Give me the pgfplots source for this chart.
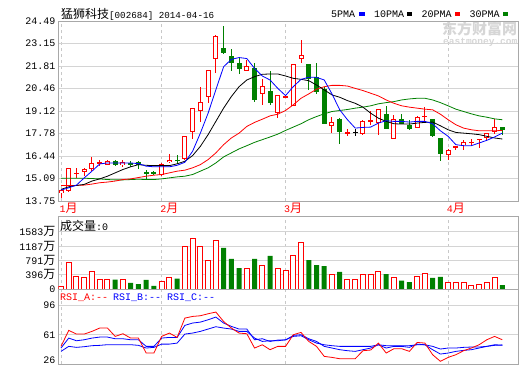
\documentclass[border=0pt]{standalone}
\usepackage{pgfplots}
\pgfplotsset{compat=1.18}
\usepackage{pgfplotstable}
\usepackage{fontspec}
\setmainfont{Liberation Mono}
\newfontfamily\cjk{Noto Sans CJK SC}
\newcommand\cj[1]{{\cjk\fontsize{12}{12}\selectfont #1}}
\definecolor{cred}{RGB}{255,0,0}
\definecolor{cgreen}{RGB}{0,128,0}
\definecolor{cblue}{RGB}{0,0,255}
\definecolor{gframe}{RGB}{168,168,168}
\definecolor{ggrid}{RGB}{212,212,212}
\definecolor{gdash}{RGB}{200,200,200}
\definecolor{wm}{RGB}{214,214,214}

\pgfplotstableread{
x o h l c
0 14.22 14.38 13.95 14.38
1 14.32 15.72 14.28 15.69
2 15.37 15.69 15.13 15.43
3 15.49 15.73 15.23 15.67
4 15.67 16.36 15.53 16.02
5 15.98 16.18 15.83 16.06
6 15.92 16.22 15.89 16.16
8 15.90 16.18 15.79 16.06
13 15.33 16.02 15.27 15.98
14 16.06 16.56 16.02 16.22
16 16.26 17.65 16.22 17.63
17 17.86 19.32 17.45 19.29
18 19.11 20.53 18.48 19.66
19 19.96 21.56 19.62 21.54
20 22.20 23.65 21.37 23.62
24 21.52 22.16 21.50 21.78
26 20.14 21.01 19.45 20.59
28 18.99 20.08 18.73 20.06
29 19.95 20.02 19.93 20.00
30 19.43 21.92 19.40 21.90
31 22.20 23.38 22.00 22.49
35 18.20 18.75 17.80 18.48
37 17.80 18.04 17.61 17.86
39 17.74 18.60 17.71 18.54
40 18.48 19.15 18.28 18.60
41 18.40 19.23 17.71 19.21
43 17.45 18.89 17.43 18.63
46 18.10 18.81 18.08 18.79
47 18.75 19.33 18.54 18.85
50 16.50 16.83 16.18 16.81
51 16.98 17.01 16.77 17.01
52 17.09 17.37 16.77 17.25
53 17.25 17.45 17.01 17.29
54 17.41 17.47 16.91 17.45
55 17.53 17.82 17.41 17.80
56 17.88 18.63 17.76 18.16
}\redC

\pgfplotstableread{
x o h l c
7 16.14 16.22 15.83 15.92
9 16.02 16.14 15.79 15.94
10 16.06 16.12 15.63 15.92
11 15.51 15.59 15.03 15.35
12 15.47 15.53 15.33 15.37
15 16.22 16.52 15.98 16.16
21 22.87 24.17 22.55 22.59
22 22.39 22.79 21.52 22.00
23 22.00 22.29 21.31 21.62
25 21.66 21.96 19.68 19.78
27 20.32 21.52 19.45 19.57
32 21.92 21.95 20.38 21.01
33 21.13 21.96 20.14 20.26
34 20.44 20.57 18.32 18.34
36 18.65 18.68 17.15 17.86
42 18.93 19.39 18.02 18.04
44 18.63 18.93 18.33 18.36
45 18.30 18.60 17.96 18.04
48 18.65 18.67 17.57 17.65
49 17.51 17.53 16.12 16.54
57 18.16 18.16 17.71 18.00
}\greenC

\pgfplotstableread{
x o h l c
38 17.86 18.04 17.61 17.86
}\blackC

\pgfplotstableread{
x m5 m10 m20 m30
0 14.40 14.44 14.68 15.11
1 14.54 14.60 14.68 15.11
2 14.70 14.68 14.68 15.11
3 15.13 14.74 14.70 15.11
4 15.53 14.94 14.76 15.09
5 15.96 15.07 14.84 15.07
6 16.02 15.23 14.88 15.03
7 16.02 15.43 14.94 15.01
8 16.02 15.63 15.03 15.01
9 16.02 15.79 15.07 15.03
10 15.98 15.92 15.15 15.05
11 15.83 15.88 15.23 15.03
12 15.79 15.86 15.29 15.03
13 15.79 15.86 15.33 15.07
14 15.79 15.86 15.43 15.13
15 15.88 15.97 15.53 15.19
16 16.06 16.12 15.59 15.23
17 16.72 16.46 15.73 15.33
18 17.80 17.01 15.92 15.53
19 18.99 17.71 16.22 15.73
20 20.38 18.50 16.62 16.02
21 21.76 19.29 17.11 16.38
22 22.20 19.98 17.51 16.62
23 22.31 20.57 17.80 16.86
24 22.25 20.97 18.20 17.05
25 21.66 21.17 18.44 17.25
26 21.21 21.31 18.63 17.41
27 20.97 21.33 18.83 17.57
28 20.47 21.33 18.93 17.74
29 20.04 21.21 19.15 17.96
30 20.57 21.07 19.49 18.16
31 21.01 21.01 19.88 18.36
32 21.13 20.93 20.14 18.60
33 21.13 20.67 20.42 18.79
34 20.97 20.38 20.57 18.95
35 20.14 20.08 20.65 19.09
36 19.19 19.94 20.65 19.15
37 18.60 19.74 20.61 19.21
38 18.10 19.58 20.47 19.29
39 18.14 19.35 20.34 19.35
40 18.16 18.99 20.18 19.43
41 18.40 18.69 20.02 19.55
42 18.54 18.50 19.78 19.62
43 18.50 18.36 19.58 19.68
44 18.50 18.34 19.43 19.78
45 18.46 18.34 19.35 19.84
46 18.50 18.40 19.29 19.88
47 18.50 18.44 19.23 19.88
48 18.36 18.46 19.19 19.78
49 17.94 18.24 18.93 19.62
50 17.61 18.00 18.60 19.43
51 17.11 17.84 18.30 19.23
52 17.05 17.80 18.10 19.09
53 17.05 17.76 18.00 18.95
54 17.21 17.71 17.94 18.83
55 17.37 17.61 17.94 18.75
56 17.57 17.51 17.94 18.65
57 17.80 17.45 17.96 18.60
}\maT

\pgfplotstableread{
x v
0 74
1 746
2 359
3 322
4 497
5 276
6 276
8 249
13 221
14 322
16 1179
17 1400
18 1179
19 792
20 1345
24 580
26 663
28 571
29 525
30 939
31 1289
35 387
37 276
38 249
39 387
40 387
41 470
43 304
46 359
47 442
50 166
51 166
52 166
53 110
54 138
55 193
56 304
}\volR

\pgfplotstableread{
x v
7 258
9 166
10 138
11 249
12 83
15 285
21 1133
22 829
23 580
25 829
27 912
32 801
33 663
34 635
36 470
42 414
44 230
45 193
48 304
49 332
57 110
}\volG

\pgfplotstableread{
x a b c
0 47.1 45.1 41.1
1 66.2 57.0 47.1
2 61.8 53.8 45.9
3 61.8 55.0 46.7
4 65.0 57.0 47.9
5 69.0 58.2 48.3
6 69.0 58.2 49.1
7 59.0 56.2 49.1
8 62.2 56.2 49.1
9 57.0 55.0 49.1
10 57.0 55.0 48.3
11 39.1 47.1 45.1
12 39.1 47.1 45.9
13 59.0 57.0 49.8
14 63.0 57.8 49.8
15 57.8 57.8 51.0
16 80.9 72.2 61.8
17 82.9 75.0 63.0
18 83.7 76.1 65.0
19 86.1 78.9 67.8
20 88.1 82.1 70.6
21 76.9 75.0 69.0
22 69.0 71.0 67.8
23 63.0 67.8 65.0
24 62.2 67.8 65.0
25 45.1 55.0 57.0
26 49.0 56.2 53.0
27 43.1 53.0 53.8
28 47.1 54.6 53.8
29 47.1 54.6 55.0
30 61.0 60.2 59.0
31 63.8 61.0 59.8
32 53.0 56.2 55.0
33 47.1 53.0 51.0
34 35.1 47.1 49.0
35 33.9 45.1 47.9
36 32.3 43.1 47.1
37 32.3 41.9 47.1
38 32.3 41.1 47.1
39 41.9 43.1 47.1
40 42.7 45.1 47.1
41 51.0 49.0 49.0
42 39.1 45.1 47.9
43 44.3 47.1 47.9
44 44.3 47.1 47.9
45 41.1 45.9 47.9
46 51.8 49.8 49.0
47 51.0 49.0 49.0
48 37.1 43.1 47.1
49 29.2 37.9 43.9
50 33.9 39.1 45.1
51 37.1 41.1 45.1
52 41.9 42.3 45.9
53 45.1 43.1 46.3
54 49.0 45.1 46.3
55 55.0 47.1 47.1
56 59.0 49.0 48.3
57 55.0 48.6 48.6
}\rsiT

\pgfplotsset{
  panel/.style={
    scale only axis, width=460pt,
    xmin=-0.323, xmax=59.09,
    axis line style={draw=gframe, line width=0.8pt},
    major tick length=0pt,
    xtick={0,13,29,50},
    xmajorgrids, ymajorgrids,
    major x grid style={draw=gdash, dash pattern=on 3pt off 3pt, line width=0.8pt},
    major y grid style={draw=ggrid, line width=0.8pt},
    tick label style={font=\fontsize{10}{12}\selectfont},
    yticklabel style={anchor=east, inner sep=0pt, xshift=-3pt},
  },
  wick/.style={draw=none, mark=none, error bars/.cd, y dir=both, y explicit, error mark=none,
    error bar style={draw=#1, line width=1pt, solid}},
  body/.style={draw=none, mark=none, error bars/.cd, y dir=both, y explicit, error mark=none,
    error bar style={draw=#1, line width=5pt, solid}},
  inner/.style={draw=none, mark=none, error bars/.cd, y dir=both, y explicit, error mark=none,
    error bar style={draw=white, line width=3pt, solid}},
}

\begin{document}
\begin{tikzpicture}
\useasboundingbox (0pt,0pt) rectangle (520pt,365pt);
\fontsize{10}{12}\selectfont

% watermark
\node[anchor=west, inner sep=0, text=wm, font=\cjk\fontsize{15}{15}\selectfont\bfseries] at (442pt,336pt) {东方财富网};
\node[anchor=west, inner sep=0, text=wm, font=\fontsize{9.5}{10}\selectfont\bfseries] at (443pt,323pt) {eastmoney.com};

% price panel
\begin{axis}[panel, at={(58.5pt,164pt)}, anchor=south west, height=180pt,
  ymin=13.75, ymax=24.49,
  ytick={13.75,15.0925,16.435,17.7775,19.12,20.4625,21.805,23.1475,24.49},
  yticklabels={13.75,15.09,16.44,17.78,19.12,20.46,21.81,23.15,24.49},
  xticklabels={1\cj{月},2\cj{月},3\cj{月},4\cj{月}},
  xticklabel style={text=cred, anchor=north west, inner sep=0pt, xshift=-1.5pt, yshift=-2pt},
]
\addplot[wick=cred] table[x=x, y expr={(\thisrow{h}+\thisrow{l})/2}, y error expr={(\thisrow{h}-\thisrow{l})/2}] {\redC};
\addplot[wick=cgreen] table[x=x, y expr={(\thisrow{h}+\thisrow{l})/2}, y error expr={(\thisrow{h}-\thisrow{l})/2}] {\greenC};
\addplot[wick=black] table[x=x, y expr={(\thisrow{h}+\thisrow{l})/2}, y error expr={(\thisrow{h}-\thisrow{l})/2}] {\blackC};
\addplot[body=cred] table[x=x, y expr={(\thisrow{o}+\thisrow{c})/2}, y error expr={max(abs(\thisrow{c}-\thisrow{o})/2,0.03)}] {\redC};
\addplot[inner] table[x=x, y expr={(\thisrow{o}+\thisrow{c})/2}, y error expr={max((\thisrow{c}-\thisrow{o})/2-0.06,0)}] {\redC};
\addplot[body=cgreen] table[x=x, y expr={(\thisrow{o}+\thisrow{c})/2}, y error expr={max(abs(\thisrow{c}-\thisrow{o})/2,0.03)}] {\greenC};
\addplot[body=black] table[x=x, y expr={(\thisrow{o}+\thisrow{c})/2}, y error expr={max(abs(\thisrow{c}-\thisrow{o})/2,0.03)}] {\blackC};
\addplot[cgreen, line width=0.8pt] table[x=x, y=m30] {\maT};
\addplot[cred, line width=0.8pt] table[x=x, y=m20] {\maT};
\addplot[black, line width=0.8pt] table[x=x, y=m10] {\maT};
\addplot[cblue, line width=0.8pt] table[x=x, y=m5] {\maT};
\end{axis}

% volume panel
\begin{axis}[panel, at={(58.5pt,76pt)}, anchor=south west, height=73pt,
  ymin=0, ymax=2017,
  ytick={0,395.75,791.5,1187.25,1583},
  yticklabels={0,396\cj{万},791\cj{万},1187\cj{万},1583\cj{万}},
  xticklabels={},
]
\addplot[ybar, bar width=5pt, bar shift=0pt, draw=cred, fill=white, line width=1pt] table[x=x, y=v] {\volR};
\addplot[ybar, bar width=5pt, bar shift=0pt, draw=none, fill=cgreen] table[x=x, y=v] {\volG};
\end{axis}

% RSI panel
\begin{axis}[panel, at={(58.5pt,1pt)}, anchor=south west, height=75pt,
  ymin=26, ymax=115.7,
  ytick={26,61,96},
  yticklabels={\raisebox{0.5pt}[0pt][0pt]{26},61,96},
  xticklabels={},
]
\addplot[cblue, line width=0.8pt] table[x=x, y=c] {\rsiT};
\addplot[cblue, line width=0.8pt] table[x=x, y=b] {\rsiT};
\addplot[cred, line width=0.8pt] table[x=x, y=a] {\rsiT};
\end{axis}

% texts
\node[anchor=west, inner sep=0] at (61pt,351pt) {\cj{猛狮科技}{\fontsize{9.2}{12}\selectfont[002684] 2014-04-16}};
\node[anchor=west, inner sep=0] at (331pt,351pt) {5PMA};
\fill[cblue] (359pt,349.3pt) rectangle (364.5pt,352.7pt);
\node[anchor=west, inner sep=0] at (374pt,351pt) {10PMA};
\fill[black] (406.5pt,349.3pt) rectangle (412pt,352.7pt);
\node[anchor=west, inner sep=0] at (421.5pt,351pt) {20PMA};
\fill[cred] (454.5pt,349.3pt) rectangle (460pt,352.7pt);
\node[anchor=west, inner sep=0] at (469.5pt,351pt) {30PMA};
\fill[cgreen] (502.5pt,349.3pt) rectangle (508pt,352.7pt);

\node[anchor=west, inner sep=0] at (60pt,139pt) {\cj{成交量}:0};
\node[anchor=west, inner sep=0, text=cred] at (60pt,67pt) {RSI\_A:-{}-};
\node[anchor=west, inner sep=0, text=cblue] at (113pt,67pt) {RSI\_B:-{}-};
\node[anchor=west, inner sep=0, text=cblue] at (167pt,67pt) {RSI\_C:-{}-};
\end{tikzpicture}
\end{document}
